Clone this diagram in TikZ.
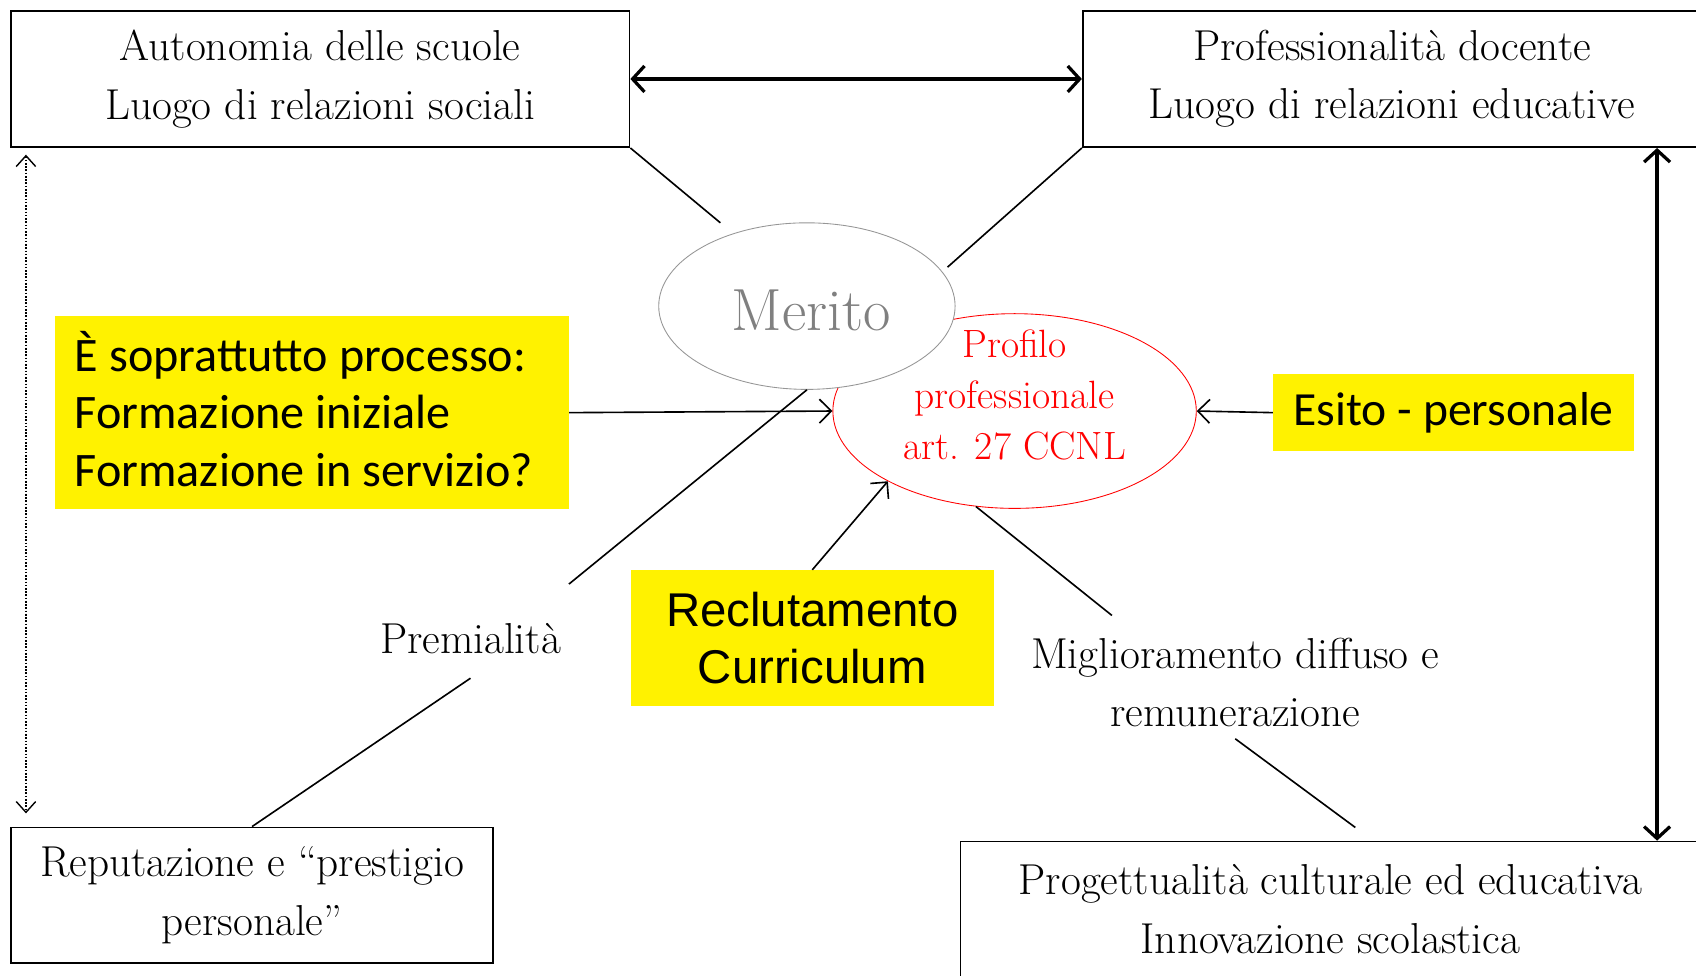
\documentclass[tikz,border=0pt]{standalone}
\usepackage{fontspec}
\newfontfamily\calib{Carlito}
\newfontfamily\arialf{Liberation Sans}
\usetikzlibrary{arrows.meta,shapes.geometric}
\definecolor{meritgray}{RGB}{128,128,128}
\definecolor{meritline}{RGB}{150,150,150}
\tikzset{
  framebox/.style={draw,line width=1.6pt,inner sep=0pt,align=center,
    font=\fontsize{40}{54}\selectfont},
  plainlabel/.style={inner sep=0pt,align=center,font=\fontsize{40}{54}\selectfont},
  yelbox/.style={fill=yellow,inner sep=0pt},
  conn/.style={line width=1.5pt},
  thinarrow/.style={line width=1.5pt,-{Straight Barb[length=11pt,width=22pt,line width=1.5pt]}},
  thickarrow/.style={line width=4pt,{Straight Barb[length=11pt,width=24pt,line width=3pt]}-{Straight Barb[length=11pt,width=24pt,line width=3pt]}},
  dotarrow/.style={line width=1.5pt,dash pattern=on 1.5pt off 1.5pt,{Straight Barb[length=10pt,width=18pt,line width=1.3pt]}-{Straight Barb[length=10pt,width=18pt,line width=1.3pt]}}
}
\begin{document}
\begin{tikzpicture}[x=1pt,y=-1pt]
\useasboundingbox (0,0) rectangle (1568,902);

% frame boxes
\node[framebox,minimum width=572pt,minimum height=126pt] (A) at (296,73)
  {Autonomia delle scuole\\Luogo di relazioni sociali};
\node[framebox,minimum width=572pt,minimum height=126pt] (B) at (1287,73)
  {Professionalità docente\\Luogo di relazioni educative};
\node[framebox,minimum width=446pt,minimum height=125pt] (C) at (233,827.5)
  {Reputazione e “prestigio\\personale”};
\node[framebox,minimum width=684pt,minimum height=125pt] (D) at (1230,840.5)
  {Progettualità culturale ed educativa\\Innovazione scolastica};

% ellipses
\node[ellipse,draw=red,line width=0.8pt,minimum width=336pt,minimum height=180pt,inner sep=0pt] (P) at (938,380) {};
\node[red,inner sep=0pt,align=center,font=\fontsize{36.5}{47}\selectfont] (Pt) at (938,365)
  {Profilo\\professionale\\art. 27 CCNL};
\node[ellipse,draw=meritline,fill=white,line width=0.8pt,minimum width=274pt,minimum height=154pt,inner sep=0pt] (M) at (746,283) {};
\node[meritgray,inner sep=0pt,font=\fontsize{55}{60}\selectfont] (Mt) at (750,287) {Merito};

% yellow boxes
\node[yelbox,minimum width=475pt,minimum height=179pt] (Y1) at (288.5,381.5) {};
\node[inner sep=0pt,align=left,anchor=west,font=\calib\fontsize{44.5}{53}\selectfont] (Y1t) at (69,378)
  {È soprattutto processo:\\Formazione iniziale\\Formazione in servizio?};
\node[yelbox,minimum width=334pt,minimum height=71pt,font=\calib\fontsize{44}{53}\selectfont] (E) at (1344,381.5) {Esito - personale};
\node[yelbox,minimum width=336pt,minimum height=126pt,align=center,font=\arialf\fontsize{43.8}{53}\selectfont] (R) at (751,590) {Reclutamento\\Curriculum};

% labels
\node[plainlabel] (prem) at (435,590) {Premialità};
\node[plainlabel] (migl) at (1142,631) {Miglioramento diffuso e\\remunerazione};

% free ends
\coordinate (m1) at (666,206);
\coordinate (m2) at (876,247);
\coordinate (p1) at (526,540);
\coordinate (p2) at (435,627);
\coordinate (q2) at (1028,569);
\coordinate (q3) at (1142,683);
\coordinate (q4) at (1253,765);
\coordinate (d1) at (24,143);
\coordinate (d2) at (24,752);
\coordinate (rx) at (1532,0);

% plain connectors
\draw[conn] (A.south east) -- (m1);
\draw[conn] (B.south west) -- (m2);
\draw[conn] (M.south) -- (p1);
\draw[conn] (p2) -- (C.north);
\draw[conn] (P.248) -- (q2);
\draw[conn] (q3) -- (q4);

% arrows
\draw[thinarrow] (Y1.east) -- (P.west);
\draw[thinarrow] (E.west) -- (P.east);
\draw[thinarrow] (R.north) -- (P.209);
\draw[thickarrow] (A.east) -- (B.west);
\draw[thickarrow] (B.south -| rx) -- (D.north -| rx);
\draw[dotarrow] (d1) -- (d2);
\end{tikzpicture}
\end{document}
